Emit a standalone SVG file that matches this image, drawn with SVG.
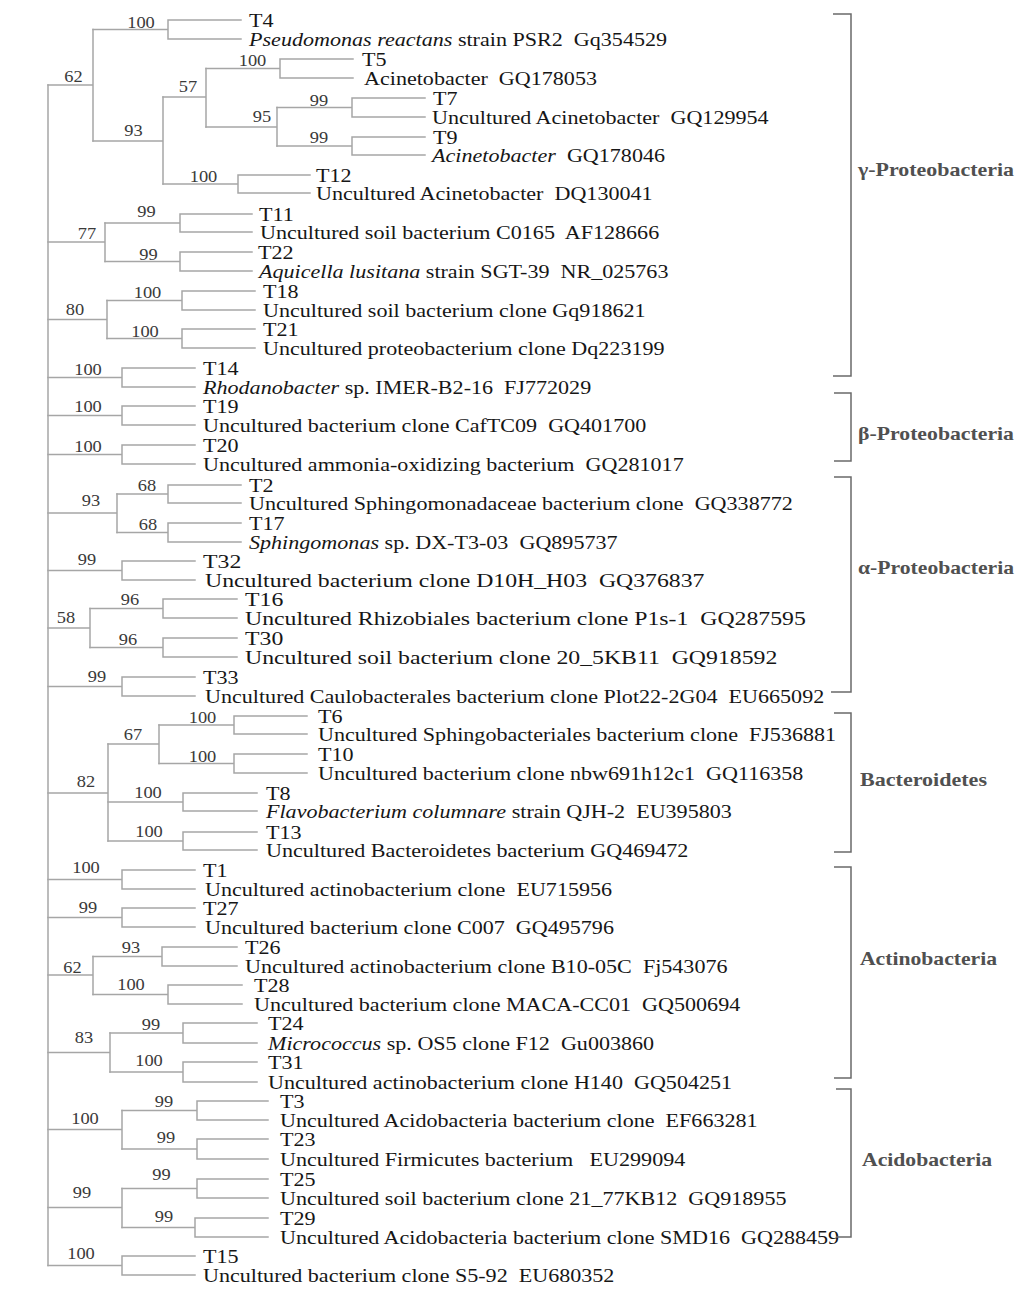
<svg xmlns="http://www.w3.org/2000/svg" width="1024" height="1290" viewBox="0 0 1024 1290">
<style>
.br{fill:none;stroke:#a6a6a6;stroke-width:1.5;stroke-linecap:square}
.bk{fill:none;stroke:#6a6a6a;stroke-width:1.5}
text{font-family:"Liberation Serif","Times New Roman",serif;white-space:pre}
.lb{font-size:19.2px;fill:#161616}
.lg{font-size:19.4px;fill:#161616}
.bs{font-size:16px;fill:#3a3a3a;text-anchor:middle}
.cl{font-size:19px;font-weight:bold;fill:#505050}
.it{font-style:italic}
</style>
<rect width="1024" height="1290" fill="#ffffff"/>
<g id="connectors" class="br">
<path d="M48 85 V1265.5"/>
<path d="M48 85 H93 M93 29.5 V141"/>
<path d="M93 29.5 H168 M168 20 V39 M168 20 H241 M168 39 H241"/>
<path d="M93 141 H163 M163 97 V184"/>
<path d="M163 97 H206 M206 68.5 V127"/>
<path d="M206 68.5 H280 M280 59 V78 M280 59 H353 M280 78 H353"/>
<path d="M206 127 H277 M277 107.5 V146"/>
<path d="M277 107.5 H352 M352 98 V117 M352 98 H425 M352 117 H425"/>
<path d="M277 146 H352 M352 137 V155 M352 137 H425 M352 155 H425"/>
<path d="M163 184 H238 M238 175 V193 M238 175 H310 M238 193 H310"/>
<path d="M48 242 H105 M105 223 V261.5"/>
<path d="M105 223 H180 M180 214 V232 M180 214 H252 M180 232 H252"/>
<path d="M105 261.5 H180 M180 252 V271 M180 252 H252 M180 271 H252"/>
<path d="M48 319.5 H107 M107 300.5 V338.5"/>
<path d="M107 300.5 H182 M182 291 V310 M182 291 H255 M182 310 H255"/>
<path d="M107 338.5 H182 M182 329 V348 M182 329 H255 M182 348 H255"/>
<path d="M48 377.5 H122 M122 368 V387 M122 368 H195 M122 387 H195"/>
<path d="M48 415.5 H122 M122 406 V425 M122 406 H195 M122 425 H195"/>
<path d="M48 454.5 H122 M122 445 V464 M122 445 H195 M122 464 H195"/>
<path d="M48 513 H117 M117 494 V532.5"/>
<path d="M117 494 H168 M168 485 V503 M168 485 H241 M168 503 H241"/>
<path d="M117 532.5 H168 M168 523 V542 M168 523 H241 M168 542 H241"/>
<path d="M48 570.5 H122 M122 561 V580 M122 561 H195 M122 580 H195"/>
<path d="M48 628 H90 M90 608.5 V647.5"/>
<path d="M90 608.5 H163 M163 599 V618 M163 599 H237 M163 618 H237"/>
<path d="M90 647.5 H163 M163 638 V657 M163 638 H237 M163 657 H237"/>
<path d="M48 686.5 H122 M122 677 V696 M122 677 H195 M122 696 H195"/>
<path d="M48 793 H108 M108 744 V841"/>
<path d="M108 744 H159 M159 725 V763.5"/>
<path d="M159 725 H234 M234 716 V734 M234 716 H307 M234 734 H307"/>
<path d="M159 763.5 H234 M234 754 V773 M234 754 H307 M234 773 H307"/>
<path d="M108 802 H183 M183 793 V811 M183 793 H257 M183 811 H257"/>
<path d="M108 841 H183 M183 832 V850 M183 832 H257 M183 850 H257"/>
<path d="M48 879.5 H122 M122 870 V889 M122 870 H195 M122 889 H195"/>
<path d="M48 917.5 H122 M122 908 V927 M122 908 H195 M122 927 H195"/>
<path d="M48 975 H93 M93 956.5 V994.5"/>
<path d="M93 956.5 H162 M162 947 V966 M162 947 H237 M162 966 H237"/>
<path d="M93 994.5 H168 M168 985 V1004 M168 985 H242 M168 1004 H242"/>
<path d="M48 1052.5 H110 M110 1033 V1072"/>
<path d="M110 1033 H183 M183 1023 V1043 M183 1023 H257 M183 1043 H257"/>
<path d="M110 1072 H183 M183 1062 V1082 M183 1062 H257 M183 1082 H257"/>
<path d="M48 1129.5 H122 M122 1110.5 V1149"/>
<path d="M122 1110.5 H197 M197 1101 V1120 M197 1101 H268 M197 1120 H268"/>
<path d="M122 1149 H197 M197 1139 V1159 M197 1139 H268 M197 1159 H268"/>
<path d="M48 1207.5 H122 M122 1188.5 V1227.5"/>
<path d="M122 1188.5 H197 M197 1179 V1198 M197 1179 H268 M197 1198 H268"/>
<path d="M122 1227.5 H195 M195 1218 V1237 M195 1218 H268 M195 1237 H268"/>
<path d="M48 1265.5 H122 M122 1256 V1275 M122 1256 H195 M122 1275 H195"/>
</g>
<g id="bootstrap">
<text class="bs" transform="translate(73.5 82) scale(1.15 1)">62</text>
<text class="bs" transform="translate(141 28) scale(1.15 1)">100</text>
<text class="bs" transform="translate(133.5 136) scale(1.15 1)">93</text>
<text class="bs" transform="translate(188 92) scale(1.15 1)">57</text>
<text class="bs" transform="translate(252.5 66) scale(1.15 1)">100</text>
<text class="bs" transform="translate(262 122) scale(1.15 1)">95</text>
<text class="bs" transform="translate(319 106) scale(1.15 1)">99</text>
<text class="bs" transform="translate(319 143) scale(1.15 1)">99</text>
<text class="bs" transform="translate(203.5 182) scale(1.15 1)">100</text>
<text class="bs" transform="translate(146.5 217) scale(1.15 1)">99</text>
<text class="bs" transform="translate(87 239) scale(1.15 1)">77</text>
<text class="bs" transform="translate(148.5 260) scale(1.15 1)">99</text>
<text class="bs" transform="translate(75 315) scale(1.15 1)">80</text>
<text class="bs" transform="translate(147.5 298) scale(1.15 1)">100</text>
<text class="bs" transform="translate(145 337) scale(1.15 1)">100</text>
<text class="bs" transform="translate(88 375) scale(1.15 1)">100</text>
<text class="bs" transform="translate(88 412) scale(1.15 1)">100</text>
<text class="bs" transform="translate(88 452) scale(1.15 1)">100</text>
<text class="bs" transform="translate(91 506) scale(1.15 1)">93</text>
<text class="bs" transform="translate(147 491) scale(1.15 1)">68</text>
<text class="bs" transform="translate(148 530) scale(1.15 1)">68</text>
<text class="bs" transform="translate(87 565) scale(1.15 1)">99</text>
<text class="bs" transform="translate(130 605) scale(1.15 1)">96</text>
<text class="bs" transform="translate(66 623) scale(1.15 1)">58</text>
<text class="bs" transform="translate(128 645) scale(1.15 1)">96</text>
<text class="bs" transform="translate(97 682) scale(1.15 1)">99</text>
<text class="bs" transform="translate(202.5 723) scale(1.15 1)">100</text>
<text class="bs" transform="translate(133 740) scale(1.15 1)">67</text>
<text class="bs" transform="translate(202.5 762) scale(1.15 1)">100</text>
<text class="bs" transform="translate(86 787) scale(1.15 1)">82</text>
<text class="bs" transform="translate(148 798) scale(1.15 1)">100</text>
<text class="bs" transform="translate(149 837) scale(1.15 1)">100</text>
<text class="bs" transform="translate(86 873) scale(1.15 1)">100</text>
<text class="bs" transform="translate(88 913) scale(1.15 1)">99</text>
<text class="bs" transform="translate(131 953) scale(1.15 1)">93</text>
<text class="bs" transform="translate(72.5 973) scale(1.15 1)">62</text>
<text class="bs" transform="translate(131 990) scale(1.15 1)">100</text>
<text class="bs" transform="translate(151 1030) scale(1.15 1)">99</text>
<text class="bs" transform="translate(84 1043) scale(1.15 1)">83</text>
<text class="bs" transform="translate(149 1066) scale(1.15 1)">100</text>
<text class="bs" transform="translate(85 1124) scale(1.15 1)">100</text>
<text class="bs" transform="translate(164 1107) scale(1.15 1)">99</text>
<text class="bs" transform="translate(166 1143) scale(1.15 1)">99</text>
<text class="bs" transform="translate(161.5 1180) scale(1.15 1)">99</text>
<text class="bs" transform="translate(82 1198) scale(1.15 1)">99</text>
<text class="bs" transform="translate(164 1222) scale(1.15 1)">99</text>
<text class="bs" transform="translate(81 1259) scale(1.15 1)">100</text>
</g>
<g id="leaves">
<g id="leaf-T4"><text class="lb" transform="translate(249 26.5) scale(1.15 1)">T4</text></g>
<g id="ref-Gq354529"><text class="lb" transform="translate(249 45.5) scale(1.15 1)"><tspan class="it">Pseudomonas reactans</tspan> strain PSR2  Gq354529</text></g>
<g id="leaf-T5"><text class="lb" transform="translate(362 65.5) scale(1.15 1)">T5</text></g>
<g id="ref-GQ178053"><text class="lb" transform="translate(364 84.5) scale(1.15 1)">Acinetobacter  GQ178053</text></g>
<g id="leaf-T7"><text class="lb" transform="translate(433 104.5) scale(1.15 1)">T7</text></g>
<g id="ref-GQ129954"><text class="lb" transform="translate(432 123.5) scale(1.15 1)">Uncultured Acinetobacter  GQ129954</text></g>
<g id="leaf-T9"><text class="lb" transform="translate(433 143.5) scale(1.15 1)">T9</text></g>
<g id="ref-GQ178046"><text class="lb" transform="translate(432 161.5) scale(1.15 1)"><tspan class="it">Acinetobacter</tspan>  GQ178046</text></g>
<g id="leaf-T12"><text class="lb" transform="translate(316 181.5) scale(1.15 1)">T12</text></g>
<g id="ref-DQ130041"><text class="lb" transform="translate(316 199.5) scale(1.15 1)">Uncultured Acinetobacter  DQ130041</text></g>
<g id="leaf-T11"><text class="lb" transform="translate(259 220.5) scale(1.15 1)">T11</text></g>
<g id="ref-AF128666"><text class="lb" transform="translate(260 238.5) scale(1.15 1)">Uncultured soil bacterium C0165  AF128666</text></g>
<g id="leaf-T22"><text class="lb" transform="translate(258 258.5) scale(1.15 1)">T22</text></g>
<g id="ref-NR_025763"><text class="lb" transform="translate(259 277.5) scale(1.15 1)"><tspan class="it">Aquicella lusitana</tspan> strain SGT-39  NR_025763</text></g>
<g id="leaf-T18"><text class="lb" transform="translate(263 297.5) scale(1.15 1)">T18</text></g>
<g id="ref-Gq918621"><text class="lb" transform="translate(263 316.5) scale(1.15 1)">Uncultured soil bacterium clone Gq918621</text></g>
<g id="leaf-T21"><text class="lb" transform="translate(263 335.5) scale(1.15 1)">T21</text></g>
<g id="ref-Dq223199"><text class="lb" transform="translate(263 354.5) scale(1.15 1)">Uncultured proteobacterium clone Dq223199</text></g>
<g id="leaf-T14"><text class="lb" transform="translate(203 374.5) scale(1.15 1)">T14</text></g>
<g id="ref-FJ772029"><text class="lb" transform="translate(203 393.5) scale(1.15 1)"><tspan class="it">Rhodanobacter</tspan> sp. IMER-B2-16  FJ772029</text></g>
<g id="leaf-T19"><text class="lb" transform="translate(203 412.5) scale(1.15 1)">T19</text></g>
<g id="ref-GQ401700"><text class="lb" transform="translate(203 431.5) scale(1.15 1)">Uncultured bacterium clone CafTC09  GQ401700</text></g>
<g id="leaf-T20"><text class="lb" transform="translate(203 451.5) scale(1.15 1)">T20</text></g>
<g id="ref-GQ281017"><text class="lb" transform="translate(203 470.5) scale(1.15 1)">Uncultured ammonia-oxidizing bacterium  GQ281017</text></g>
<g id="leaf-T2"><text class="lb" transform="translate(249 491.5) scale(1.15 1)">T2</text></g>
<g id="ref-GQ338772"><text class="lb" transform="translate(249 509.5) scale(1.15 1)">Uncultured Sphingomonadaceae bacterium clone  GQ338772</text></g>
<g id="leaf-T17"><text class="lb" transform="translate(249 529.5) scale(1.15 1)">T17</text></g>
<g id="ref-GQ895737"><text class="lb" transform="translate(249 548.5) scale(1.15 1)"><tspan class="it">Sphingomonas</tspan> sp. DX-T3-03  GQ895737</text></g>
<g id="leaf-T32"><text class="lg" transform="translate(203 567.5) scale(1.225 1)">T32</text></g>
<g id="ref-GQ376837"><text class="lg" transform="translate(205 586.5) scale(1.225 1)">Uncultured bacterium clone D10H_H03  GQ376837</text></g>
<g id="leaf-T16"><text class="lg" transform="translate(245 605.5) scale(1.225 1)">T16</text></g>
<g id="ref-GQ287595"><text class="lg" transform="translate(245 624.5) scale(1.225 1)">Uncultured Rhizobiales bacterium clone P1s-1  GQ287595</text></g>
<g id="leaf-T30"><text class="lg" transform="translate(245 644.5) scale(1.225 1)">T30</text></g>
<g id="ref-GQ918592"><text class="lg" transform="translate(245 663.5) scale(1.225 1)">Uncultured soil bacterium clone 20_5KB11  GQ918592</text></g>
<g id="leaf-T33"><text class="lb" transform="translate(203 683.5) scale(1.15 1)">T33</text></g>
<g id="ref-EU665092"><text class="lb" transform="translate(205 702.5) scale(1.15 1)">Uncultured Caulobacterales bacterium clone Plot22-2G04  EU665092</text></g>
<g id="leaf-T6"><text class="lb" transform="translate(318 722.5) scale(1.15 1)">T6</text></g>
<g id="ref-FJ536881"><text class="lb" transform="translate(318 740.5) scale(1.15 1)">Uncultured Sphingobacteriales bacterium clone  FJ536881</text></g>
<g id="leaf-T10"><text class="lb" transform="translate(318 760.5) scale(1.15 1)">T10</text></g>
<g id="ref-GQ116358"><text class="lb" transform="translate(318 779.5) scale(1.15 1)">Uncultured bacterium clone nbw691h12c1  GQ116358</text></g>
<g id="leaf-T8"><text class="lb" transform="translate(266 799.5) scale(1.15 1)">T8</text></g>
<g id="ref-EU395803"><text class="lb" transform="translate(266 817.5) scale(1.15 1)"><tspan class="it">Flavobacterium columnare</tspan> strain QJH-2  EU395803</text></g>
<g id="leaf-T13"><text class="lb" transform="translate(266 838.5) scale(1.15 1)">T13</text></g>
<g id="ref-GQ469472"><text class="lb" transform="translate(266 856.5) scale(1.15 1)">Uncultured Bacteroidetes bacterium GQ469472</text></g>
<g id="leaf-T1"><text class="lb" transform="translate(203 876.5) scale(1.15 1)">T1</text></g>
<g id="ref-EU715956"><text class="lb" transform="translate(205 895.5) scale(1.15 1)">Uncultured actinobacterium clone  EU715956</text></g>
<g id="leaf-T27"><text class="lb" transform="translate(203 914.5) scale(1.15 1)">T27</text></g>
<g id="ref-GQ495796"><text class="lb" transform="translate(205 933.5) scale(1.15 1)">Uncultured bacterium clone C007  GQ495796</text></g>
<g id="leaf-T26"><text class="lb" transform="translate(245 953.5) scale(1.15 1)">T26</text></g>
<g id="ref-Fj543076"><text class="lb" transform="translate(245 972.5) scale(1.15 1)">Uncultured actinobacterium clone B10-05C  Fj543076</text></g>
<g id="leaf-T28"><text class="lb" transform="translate(254 991.5) scale(1.15 1)">T28</text></g>
<g id="ref-GQ500694"><text class="lb" transform="translate(254 1010.5) scale(1.15 1)">Uncultured bacterium clone MACA-CC01  GQ500694</text></g>
<g id="leaf-T24"><text class="lb" transform="translate(268 1029.5) scale(1.15 1)">T24</text></g>
<g id="ref-Gu003860"><text class="lb" transform="translate(268 1049.5) scale(1.15 1)"><tspan class="it">Micrococcus</tspan> sp. OS5 clone F12  Gu003860</text></g>
<g id="leaf-T31"><text class="lb" transform="translate(268 1068.5) scale(1.15 1)">T31</text></g>
<g id="ref-GQ504251"><text class="lb" transform="translate(268 1088.5) scale(1.15 1)">Uncultured actinobacterium clone H140  GQ504251</text></g>
<g id="leaf-T3"><text class="lb" transform="translate(280 1107.5) scale(1.15 1)">T3</text></g>
<g id="ref-EF663281"><text class="lb" transform="translate(280 1126.5) scale(1.15 1)">Uncultured Acidobacteria bacterium clone  EF663281</text></g>
<g id="leaf-T23"><text class="lb" transform="translate(280 1145.5) scale(1.15 1)">T23</text></g>
<g id="ref-EU299094"><text class="lb" transform="translate(280 1165.5) scale(1.15 1)">Uncultured Firmicutes bacterium   EU299094</text></g>
<g id="leaf-T25"><text class="lb" transform="translate(280 1185.5) scale(1.15 1)">T25</text></g>
<g id="ref-GQ918955"><text class="lb" transform="translate(280 1204.5) scale(1.15 1)">Uncultured soil bacterium clone 21_77KB12  GQ918955</text></g>
<g id="leaf-T29"><text class="lb" transform="translate(280 1224.5) scale(1.15 1)">T29</text></g>
<g id="ref-GQ288459"><text class="lb" transform="translate(280 1243.5) scale(1.15 1)">Uncultured Acidobacteria bacterium clone SMD16  GQ288459</text></g>
<g id="leaf-T15"><text class="lb" transform="translate(203 1262.5) scale(1.15 1)">T15</text></g>
<g id="ref-EU680352"><text class="lb" transform="translate(203 1281.5) scale(1.15 1)">Uncultured bacterium clone S5-92  EU680352</text></g>
</g>
<g id="clade-gamma"><path class="bk" d="M833 14 H851 V376 H833"/><text class="cl" x="858" y="176" textLength="156" lengthAdjust="spacingAndGlyphs">γ-Proteobacteria</text></g>
<g id="clade-beta"><path class="bk" d="M834 393 H851 V461 H834"/><text class="cl" x="858" y="440" textLength="156" lengthAdjust="spacingAndGlyphs">β-Proteobacteria</text></g>
<g id="clade-alpha"><path class="bk" d="M834 477 H851 V692 H831"/><text class="cl" x="858" y="574" textLength="156" lengthAdjust="spacingAndGlyphs">α-Proteobacteria</text></g>
<g id="clade-bacteroidetes"><path class="bk" d="M834 713 H851 V852 H834"/><text class="cl" x="860" y="786" textLength="127" lengthAdjust="spacingAndGlyphs">Bacteroidetes</text></g>
<g id="clade-actinobacteria"><path class="bk" d="M834 867 H851 V1078 H834"/><text class="cl" x="860" y="965" textLength="137" lengthAdjust="spacingAndGlyphs">Actinobacteria</text></g>
<g id="clade-acidobacteria"><path class="bk" d="M836 1089 H851 V1237 H836"/><text class="cl" x="862" y="1166" textLength="130" lengthAdjust="spacingAndGlyphs">Acidobacteria</text></g>
</svg>
